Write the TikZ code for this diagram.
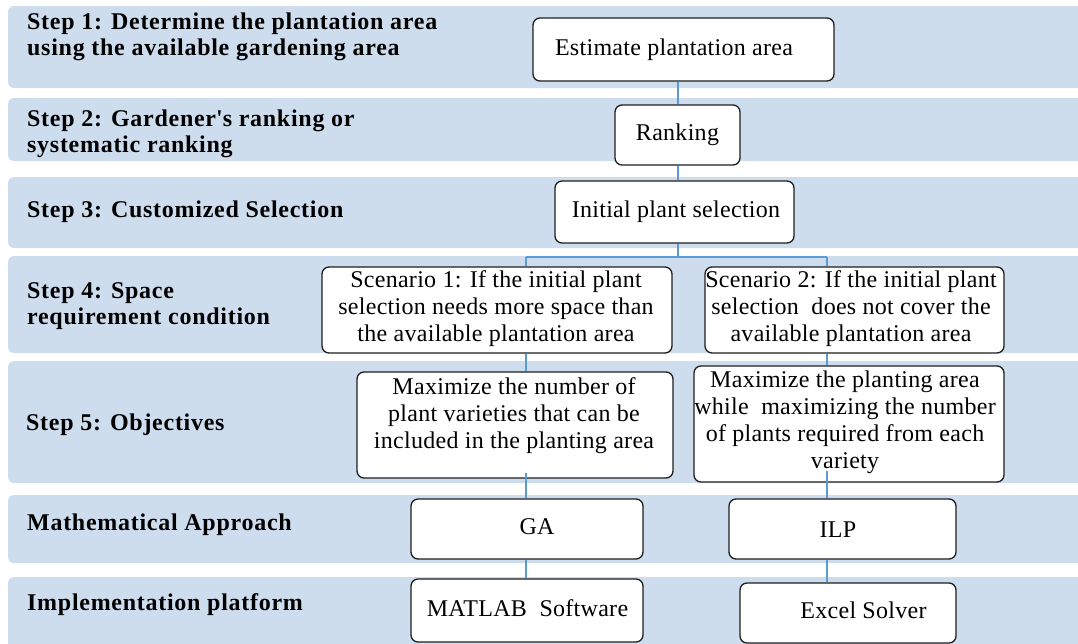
\documentclass[tikz,border=0pt]{standalone}
\usepackage{fontspec}
\setmainfont[LetterSpace=1.2, BoldFeatures={LetterSpace=3}]{Liberation Serif}
\definecolor{bandc}{RGB}{206,221,238}
\definecolor{linec}{RGB}{91,155,213}
\definecolor{boxline}{RGB}{30,30,30}
\tikzset{
  band/.style={fill=bandc, rounded corners=6pt},
  steplabel/.style={anchor=west, align=left, inner sep=0pt, font=\bfseries\fontsize{24}{26.5}\selectfont},
  flowbox/.style={draw=boxline, line width=1.3pt, fill=white, rounded corners=7pt, inner sep=0pt, align=center, font=\fontsize{24}{27}\selectfont},
  boxtext/.style={inner sep=0pt, align=center, font=\fontsize{24}{27}\selectfont},
  conn/.style={draw=linec, line width=1.2pt}
}
\begin{document}
\begin{tikzpicture}[x=1pt,y=-1pt]
\useasboundingbox (0,0) rectangle (1078,643);
\clip (0,0) rectangle (1078,643);
% bands
\fill[band] (8,6) rectangle (1100,88);
\fill[band] (8,98) rectangle (1100,161);
\fill[band] (8,177) rectangle (1100,248);
\fill[band] (8,256) rectangle (1100,353);
\fill[band] (8,361) rectangle (1100,483);
\fill[band] (8,495) rectangle (1100,563);
\fill[band] (8,577) rectangle (1100,660);
% step labels
\node[steplabel] (l1) at (27,37) {Step 1: Determine the plantation area\\using the available gardening area};
\node[steplabel] (l2) at (27,134) {Step 2: Gardener\textquotesingle s ranking or\\systematic ranking};
\node[steplabel] (l3) at (27,212) {Step 3: Customized Selection};
\node[steplabel] (l4) at (27,306) {Step 4: Space\\requirement condition};
\node[steplabel] (l5) at (26,425) {Step 5: Objectives};
\node[steplabel] (l6) at (27,525) {Mathematical Approach};
\node[steplabel] (l7) at (27,605) {Implementation platform};
% connector columns
\coordinate (cx) at (678,0);
\coordinate (lx) at (526,0);
\coordinate (rx) at (827,0);
\coordinate (split) at (678,257);
\coordinate (splitl) at (526,257);
\coordinate (splitr) at (827,257);
% boxes
\node[flowbox, minimum width=301pt, minimum height=63pt] (est) at (683.5,49.5) {};
\node[boxtext] (estt) at (674,50) {Estimate plantation area};
\node[flowbox, minimum width=125pt, minimum height=60pt] (rank) at (677.5,135) {Ranking};
\node[flowbox, minimum width=239pt, minimum height=62pt] (init) at (674.5,212) {};
\node[boxtext] (initt) at (676,212) {Initial plant selection};
\node[flowbox, minimum width=350pt, minimum height=86pt] (s1) at (497,310) {};
\node[boxtext] (s1t) at (496,309) {Scenario 1: If the initial plant\\selection needs more space than\\the available plantation area};
\node[flowbox, minimum width=299pt, minimum height=86pt] (s2) at (854.5,310) {};
\node[boxtext] (s2t) at (851,309) {Scenario 2: If the initial plant\\selection\ \ does not cover the\\available plantation area};
\node[flowbox, minimum width=316pt, minimum height=106pt] (o1) at (515,425) {};
\node[boxtext] (o1t) at (514,416) {Maximize the number of\\plant varieties that can be\\included in the planting area};
\node[flowbox, minimum width=310pt, minimum height=116pt] (o2) at (849,424) {};
\node[boxtext] (o2t) at (845,422) {Maximize the planting area\\while\ \ maximizing the number\\of plants required from each\\variety};
\node[flowbox, minimum width=232pt, minimum height=60pt] (ga) at (527,529) {};
\node[boxtext] (gat) at (537,527) {GA};
\node[flowbox, minimum width=227pt, minimum height=60pt] (ilp) at (842.5,529) {};
\node[boxtext] (ilpt) at (838,530) {ILP};
\node[flowbox, minimum width=232pt, minimum height=63pt] (mat) at (527,610.5) {};
\node[boxtext] (matt) at (527.5,608) {MATLAB\ \ Software};
\node[flowbox, minimum width=216pt, minimum height=60pt] (exc) at (848,613) {};
\node[boxtext] (exct) at (863.5,610) {Excel Solver};
% connectors
\draw[conn] (est.south -| cx) -- (rank.north -| cx);
\draw[conn] (rank.south -| cx) -- (init.north -| cx);
\draw[conn] (init.south -| cx) -- (split);
\draw[conn] (splitl) -- (splitr);
\draw[conn] (splitl) -- (s1.north -| lx);
\draw[conn] (splitr) -- (s2.north -| rx);
\draw[conn] (s1.south -| lx) -- (o1.north -| lx);
\draw[conn] (s2.south -| rx) -- (o2.north -| rx);
\draw[conn] (o1.south -| lx) ++(0,-6) -- (ga.north -| lx);
\draw[conn] (o2.south -| rx) ++(0,-12) -- (ilp.north -| rx);
\draw[conn] (ga.south -| lx) -- (mat.north -| lx);
\draw[conn] (ilp.south -| rx) -- (exc.north -| rx);
\end{tikzpicture}
\end{document}
